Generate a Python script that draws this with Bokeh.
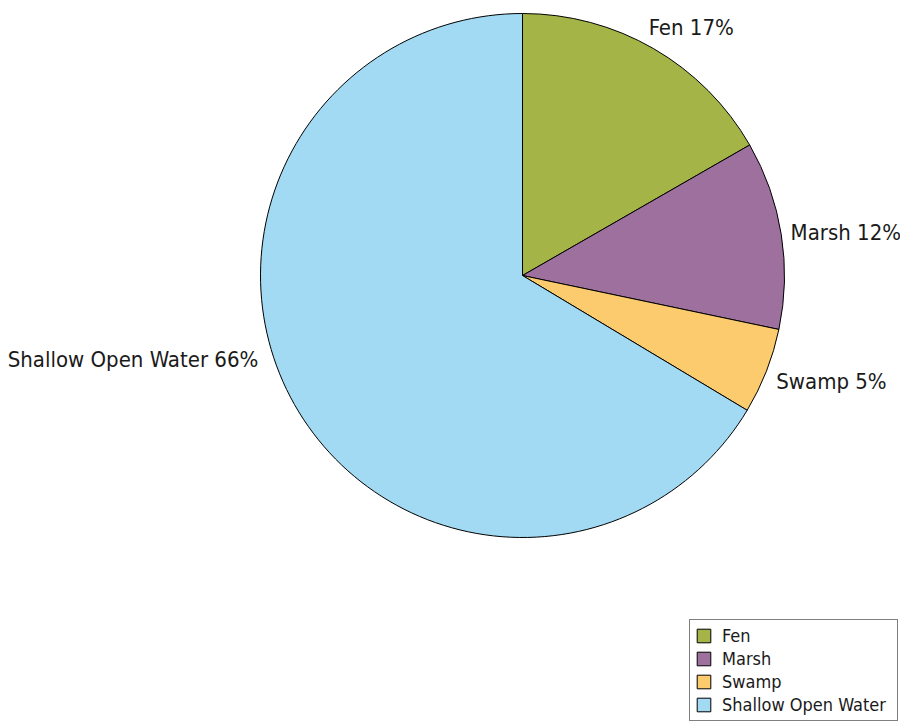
import math
from bokeh.plotting import figure
from bokeh.models import Range1d, ColumnDataSource, Legend, LegendItem
from bokeh.core.properties import value
from bokeh.embed import file_html
from bokeh.resources import INLINE

# ---- data ----
categories = ["Fen", "Marsh", "Swamp", "Shallow Open Water"]
shares = [16.7, 11.6, 5.3, 66.4]          # percent
share_labels = ["17%", "12%", "5%", "66%"]
colors = ["#A4B446", "#9E709E", "#FBCB6E", "#A1DAF2"]

# ---- layout (styles/positions) ----
W, H = 900, 722
CX, CY, R = 522, H - 275, 262
# label placement: (radius factor, angle tweak in degrees, align)
label_layout = [(1.062, 3.1, "left"), (1.036, 0.05, "left"),
                (1.050, -1.3, "left"), (1.058, -11.9, "right")]
FONT = "DejaVu Sans Condensed"

total = sum(shares)
starts, ends, mids = [], [], []
cum = 0.0
for s in shares:
    a_end = math.pi / 2 - 2 * math.pi * cum / total
    cum += s
    a_start = math.pi / 2 - 2 * math.pi * cum / total
    starts.append(a_start)
    ends.append(a_end)
    mids.append((a_start + a_end) / 2)

src = ColumnDataSource(dict(cat=categories, start=starts, end=ends, color=colors,
                            x=[CX] * 4, y=[CY] * 4))

p = figure(width=W, height=H, output_backend="svg", toolbar_location=None,
           x_range=Range1d(0, W), y_range=Range1d(0, H), min_border=0)
p.axis.visible = False
p.grid.visible = False
p.outline_line_color = None
p.background_fill_color = "white"

wr = p.wedge(x="x", y="y", radius=R, start_angle="start", end_angle="end",
             fill_color="color", line_color="black", line_width=1, source=src)

for i, cat in enumerate(categories):
    rf, tw, al = label_layout[i]
    a = mids[i] + math.radians(tw)
    lx = CX + rf * R * math.cos(a)
    ly = CY + rf * R * math.sin(a)
    p.text(x=[lx], y=[ly], text=[f"{cat} {share_labels[i]}"],
           text_font=value(FONT), text_font_size="22px", text_color="#1a1a1a",
           text_align=al, text_baseline="middle")

items = [LegendItem(label=cat, renderers=[wr], index=i) for i, cat in enumerate(categories)]
legend = Legend(items=items, location=(689, H - 721),
                label_text_font=FONT, label_text_font_size="18px",
                label_text_color="#1a1a1a",
                glyph_width=17, glyph_height=17, label_standoff=10,
                spacing=2, padding=5, margin=0, label_height=21, label_width=170,
                border_line_color="black", border_line_width=1,
                background_fill_color="white", background_fill_alpha=1.0)
p.add_layout(legend, "center")

open("out.html", "w").write(file_html(p, INLINE))
